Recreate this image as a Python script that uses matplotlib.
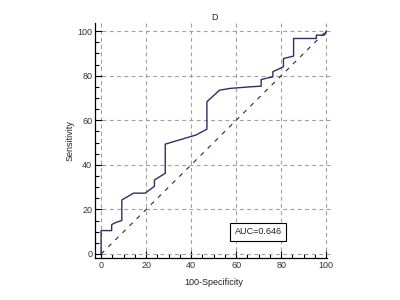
import matplotlib
matplotlib.use("Agg")
import matplotlib.pyplot as plt
from matplotlib.ticker import MultipleLocator

plt.rcParams['font.family'] = ['Liberation Sans', 'DejaVu Sans']

fpr = [0, 0, 4.7, 4.7, 6.7, 9.2, 9.2, 14.4, 19.6, 23.7, 23.7, 28.5, 28.5,
       42.2, 47.0, 47.0, 52.6, 57.3, 66.2, 71.1, 71.1, 76.3, 76.3, 81.0, 81.0,
       85.5, 85.5, 95.6, 95.6, 99.2, 100]
tpr = [0, 10.5, 10.5, 13.2, 14.2, 15.0, 24.2, 27.3, 27.3, 30.4, 33.2, 36.2, 49.3,
       53.4, 56.0, 68.3, 73.5, 74.3, 75.0, 75.3, 78.3, 79.5, 81.8, 84.0, 87.7,
       88.8, 96.7, 96.7, 98.2, 98.2, 100]
ticks = [0, 20, 40, 60, 80, 100]
auc_text = "AUC=0.646"

fig = plt.figure(figsize=(4, 3), dpi=100)
ax = fig.add_axes([0.2375, 0.14, 0.595, 0.783])

ax.plot([0, 100], [0, 100], color='#4a1c1c', lw=0.8, ls=(0, (4, 5)))
ax.plot(fpr, tpr, color='#2e2e6a', lw=1.0)

ax.set_xlim(-2.7, 103)
ax.set_ylim(-1.8, 103.6)
ax.set_xticks(ticks)
ax.set_yticks(ticks)
ax.xaxis.set_minor_locator(MultipleLocator(5))
ax.yaxis.set_minor_locator(MultipleLocator(5))
ax.grid(True, which='major', color='#a0a0a0', ls=(0, (3.5, 3)), lw=0.8)
for s in ['top', 'right']:
    ax.spines[s].set_visible(False)
for s in ['left', 'bottom']:
    ax.spines[s].set_linewidth(0.9)
ax.spines['left'].set_bounds(-1.8, 103.6)
ax.spines['bottom'].set_bounds(-2.7, 100.5)
ax.tick_params(which='major', direction='in', length=5, width=0.8, labelsize=6.5,
               labelcolor='#333333', pad=2)
ax.tick_params(which='minor', direction='in', length=3, width=0.8)

ax.set_title("D", fontsize=6.5, color='#222222', pad=2)
ax.set_xlabel("100-Specificity", fontsize=6.5, color='#222222', labelpad=6)
ax.set_ylabel("Sensitivity", fontsize=6.5, color='#222222', labelpad=2)

ax.text(69.8, 9.9, auc_text, fontsize=6.5, ha='center', va='center', color='#222222',
        bbox=dict(boxstyle='square,pad=0.5', fc='white', ec='black', lw=0.8))

fig.savefig("out.png", dpi=100)
